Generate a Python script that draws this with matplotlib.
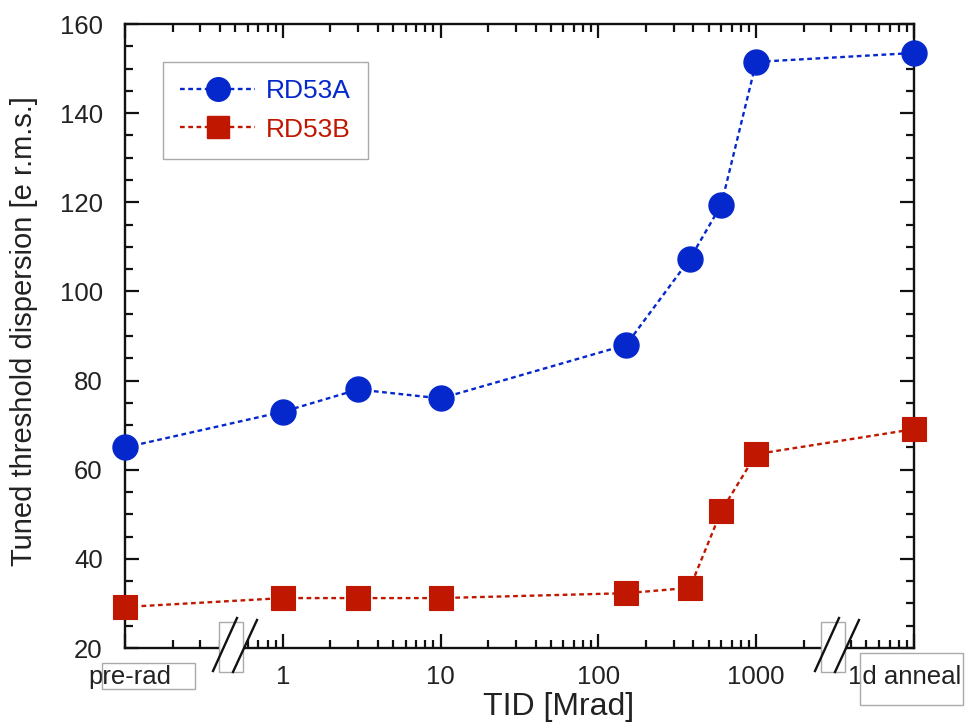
import matplotlib
matplotlib.use("Agg")
import matplotlib.pyplot as plt
import matplotlib.transforms as mtrans
from matplotlib.patches import Rectangle
from matplotlib.lines import Line2D
from matplotlib.ticker import MultipleLocator, LogLocator, NullFormatter

plt.rcParams["font.family"] = ["Liberation Sans", "DejaVu Sans"]

# ── Data ──────────────────────────────────────────────────────────────────────
# pre-rad is put at 0.1 Mrad and the 1 day anneal at 10000 Mrad on the log axis
tid = [0.1, 1, 3, 10, 150, 380, 600, 1000, 10000]
rd53a = [65, 73, 78, 76, 88, 107.3, 119.4, 151.5, 153.5]
rd53b = [29.2, 31.2, 31.2, 31.2, 32.3, 33.5, 50.7, 63.5, 69.1]

tick_pos = [0.1, 1, 10, 100, 1000, 10000]
tick_lab = ["pre-rad", "1", "10", "100", "1000", "1d anneal"]

blue = "#0528cc"
red = "#c01800"
txt = "#222222"

W, H = 968, 725
fig = plt.figure(figsize=(W / 100, H / 100), dpi=100)
ax = fig.add_axes([125 / W, 1 - 648 / H, (914 - 125) / W, (648 - 24) / H])

dash = (0, (2.0, 1.5))
ax.plot(tid, rd53a, color=blue, lw=1.7, ls=dash, marker="o", ms=18,
        mec=blue, zorder=5, clip_on=False)
ax.plot(tid, rd53b, color=red, lw=1.7, ls=dash, marker="s", ms=17,
        mec=red, mew=0.8, zorder=5, clip_on=False)

ax.set_xscale("log")
ax.set_xlim(0.1, 10000)
ax.set_ylim(20, 160)

ax.set_xticks(tick_pos)
ax.set_xticklabels(tick_lab)
ax.xaxis.set_minor_locator(LogLocator(base=10, subs=range(2, 10), numticks=20))
ax.xaxis.set_minor_formatter(NullFormatter())
ax.yaxis.set_major_locator(MultipleLocator(20))
ax.yaxis.set_minor_locator(MultipleLocator(5))

for s in ax.spines.values():
    s.set_linewidth(1.7)
    s.set_color("#111111")
ax.tick_params(which="both", direction="in", top=True, right=True,
               width=1.6, color="#111111", labelsize=18.5, labelcolor=txt)
ax.tick_params(which="major", length=10)
ax.tick_params(which="minor", length=5.5)
ax.tick_params(axis="y", pad=16)
ax.tick_params(axis="x", pad=12)

# nudge the two end labels inward so they sit next to their boxes
labels = ax.get_xticklabels()
for lab, dx in ((labels[0], 5), (labels[-1], -9)):
    lab.set_transform(lab.get_transform() +
                      mtrans.ScaledTranslation(dx / 100, 0, fig.dpi_scale_trans))

ax.set_xlabel("TID [Mrad]", fontsize=23, color=txt)
ax.xaxis.set_label_coords(0.549, -0.07)
ax.set_ylabel("Tuned threshold dispersion [e r.m.s.]", fontsize=21, color=txt)
ax.yaxis.set_label_coords(-0.11, 0.508)

# ── Legend ────────────────────────────────────────────────────────────────────
handles = [
    Line2D([], [], color=blue, lw=1.7, ls=dash, marker="o", ms=17, mec=blue),
    Line2D([], [], color=red, lw=1.7, ls=dash, marker="s", ms=16, mec=red),
]
leg = ax.legend(handles, ["RD53A", "RD53B"], loc="upper left",
                bbox_to_anchor=(0.048, 0.939), borderaxespad=0,
                fontsize=19, handlelength=2.85, handletextpad=0.4,
                labelspacing=0.55, borderpad=0.65, fancybox=False,
                edgecolor="#aaaaaa", framealpha=1)
leg.get_frame().set_linewidth(1.0)
for t, c in zip(leg.get_texts(), [blue, red]):
    t.set_color(c)

# ── Axis breaks and label boxes (figure pixel coords) ─────────────────────────
def px_rect(x0, y0, x1, y1, **kw):
    fig.add_artist(Rectangle((x0 / W, 1 - y1 / H), (x1 - x0) / W, (y1 - y0) / H,
                             transform=fig.transFigure, **kw))

def px_line(x0, y0, x1, y1):
    fig.add_artist(Line2D([x0 / W, x1 / W], [1 - y0 / H, 1 - y1 / H],
                          transform=fig.transFigure, color="#111111", lw=1.7,
                          zorder=11))

for bx in (219, 821):
    px_rect(bx, 622, bx + 24, 672, facecolor="white", edgecolor="#aaaaaa",
            lw=1.0, zorder=10)
    px_line(bx - 6, 671, bx + 18, 618)
    px_line(bx + 14, 672, bx + 38, 620)

px_rect(102, 663, 195, 689, facecolor="none", edgecolor="#aaaaaa", lw=1.0,
        zorder=10)
px_rect(860, 653, 963, 705, facecolor="none", edgecolor="#aaaaaa", lw=1.0,
        zorder=10)

fig.savefig("out.png", dpi=100)
